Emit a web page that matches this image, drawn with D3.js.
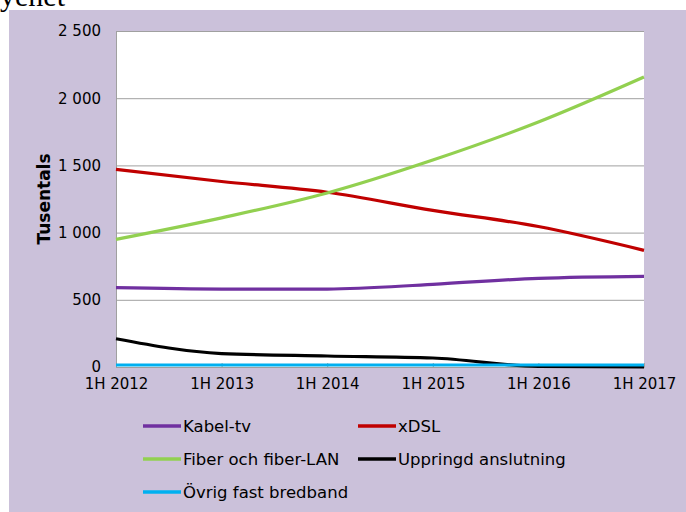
<!DOCTYPE html>
<html lang='sv'>

<head>
    <meta charset='UTF-8'>
    <title></title>
    <script src="https://cdn.jsdelivr.net/npm/d3@7"></script>
    <style>
        body { margin: 0; background: #fff; }
        text { font-family: "DejaVu Sans", Verdana, sans-serif; fill: #000; }
    </style>
</head>

<body>
    <svg class="chart"></svg>
</body>

<script>
    // data
    const periods = ['1H 2012', '1H 2013', '1H 2014', '1H 2015', '1H 2016', '1H 2017'];
    const kabelTv = [590, 580, 580, 615, 660, 675];
    const xdsl = [1470, 1380, 1300, 1165, 1045, 868];
    const fiber = [950, 1110, 1295, 1540, 1823, 2158];
    const uppringd = [210, 100, 82, 67, 5, 0];
    const ovrig = [15, 15, 15, 15, 15, 15];
    const yTicks = [0, 500, 1000, 1500, 2000, 2500];

    const series = [
        { name: 'Kabel-tv', values: kabelTv, color: '#7030a0' },
        { name: 'xDSL', values: xdsl, color: '#c00000' },
        { name: 'Fiber och fiber-LAN', values: fiber, color: '#92d050' },
        { name: 'Uppringd anslutning', values: uppringd, color: '#000000' },
        { name: 'Övrig fast bredband', values: ovrig, color: '#00b0f0' }
    ];

    const width = 686, height = 512;
    const plot = { left: 116, top: 31, right: 644, bottom: 367 };

    const svg = d3.select('.chart')
        .attr('width', width)
        .attr('height', height);

    // heading text above the panel (cut off at top, as in the original)
    svg.append('text')
        .attr('x', 0).attr('y', 6)
        .style('font-family', '"Liberation Serif", serif')
        .style('font-size', '30px')
        .text('yenet');

    // panel background
    svg.append('rect')
        .attr('x', 9).attr('y', 10)
        .attr('width', width - 9).attr('height', height - 10)
        .attr('fill', '#cbc1da');

    svg.append('rect')
        .attr('x', plot.left).attr('y', plot.top)
        .attr('width', plot.right - plot.left).attr('height', plot.bottom - plot.top)
        .attr('fill', '#fff');

    const x = d3.scalePoint().domain(periods).range([plot.left, plot.right]);
    const y = d3.scaleLinear().domain([0, 2500]).range([plot.bottom, plot.top]);

    const fmt = v => d3.format(',')(v).replace(/,/g, ' ');

    // gridlines + y labels
    const yAxis = svg.append('g')
        .attr('transform', `translate(${plot.left},0)`)
        .call(d3.axisLeft(y).tickValues(yTicks).tickFormat(fmt)
            .tickSize(-(plot.right - plot.left)).tickPadding(15));
    yAxis.select('.domain').attr('stroke', '#a0a0a0');
    yAxis.selectAll('.tick line').attr('stroke', '#a0a0a0');
    yAxis.selectAll('.tick text').style('font-size', '15px').attr('fill', '#000');

    // x axis
    const xAxis = svg.append('g')
        .attr('transform', `translate(0,${plot.bottom})`)
        .call(d3.axisBottom(x).tickSize(-4).tickPadding(11));
    xAxis.select('.domain').attr('stroke', '#a0a0a0');
    xAxis.selectAll('.tick line').attr('stroke', '#a0a0a0');
    xAxis.selectAll('.tick text').style('font-size', '15px').attr('fill', '#000');

    // y title
    svg.append('text')
        .attr('transform', `translate(50,${(plot.top + plot.bottom) / 2}) rotate(-90)`)
        .attr('text-anchor', 'middle')
        .style('font-size', '17px')
        .style('font-weight', 'bold')
        .text('Tusentals');

    // lines
    const line = d3.line()
        .x((d, i) => x(periods[i]))
        .y(d => y(d))
        .curve(d3.curveMonotoneX);

    svg.append('g').selectAll('path')
        .data(series)
        .join('path')
        .attr('d', d => line(d.values))
        .attr('fill', 'none')
        .attr('stroke', d => d.color)
        .attr('stroke-width', 3.2);

    // legend
    const legend = svg.append('g').selectAll('g')
        .data(series)
        .join('g')
        .attr('transform', (d, i) => `translate(${i % 2 ? 358 : 143},${426 + Math.floor(i / 2) * 33})`);
    legend.append('line')
        .attr('x1', 0).attr('x2', 38)
        .attr('stroke', d => d.color)
        .attr('stroke-width', 3.5);
    legend.append('text')
        .attr('x', 40).attr('dy', '0.35em')
        .style('font-size', '16.5px')
        .text(d => d.name);
</script>

</html>
